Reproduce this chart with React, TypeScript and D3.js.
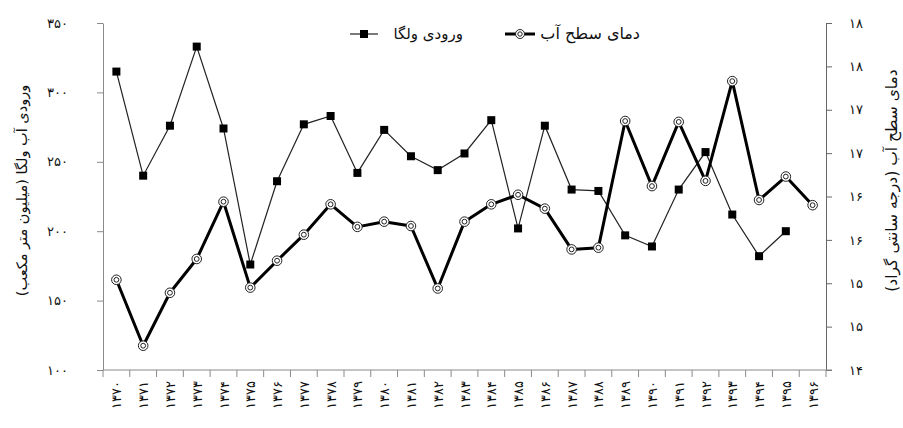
import React, { useEffect, useRef } from "react";
import * as d3 from "d3";

// years 1370..1396 (Persian calendar)
const years = [
  1370, 1371, 1372, 1373, 1374, 1375, 1376, 1377, 1378, 1379, 1380, 1381, 1382,
  1383, 1384, 1385, 1386, 1387, 1388, 1389, 1390, 1391, 1392, 1393, 1394, 1395,
  1396,
];

// Volga inflow (million m3) - left axis
const volga = [
  315, 240, 276, 333, 274, 176, 236, 277, 283, 242, 273, 254, 244, 256, 280,
  202, 276, 230, 229, 197, 189, 230, 257, 212, 182, 200, null,
];

// surface water temperature (C) - right axis
const temp = [
  15.04, 14.28, 14.89, 15.28, 15.94, 14.95, 15.26, 15.56, 15.91, 15.65, 15.71,
  15.66, 14.94, 15.71, 15.91, 16.02, 15.86, 15.39, 15.41, 16.87, 16.12, 16.86,
  16.18, 17.33, 15.96, 16.23, 15.9,
];

const leftTicks = [100, 150, 200, 250, 300, 350];
const rightTicks = [14, 14.5, 15, 15.5, 16, 16.5, 17, 17.5, 18];

const leftTitle = "ورودی آب ولگا (میلیون متر مکعب)";
const rightTitle = "دمای سطح آب (درجه سانتی گراد)";
const volgaName = "ورودی ولگا";
const tempName = "دمای سطح آب";

const fa = (v: number | string) =>
  String(v).replace(/\d/g, (c) => "۰۱۲۳۴۵۶۷۸۹"[+c]);

const W = 903;
const H = 428;
const m = { top: 23, bottom: 58, left: 103, right: 77 };
const FONT = "'DejaVu Sans', sans-serif";

export default function App() {
  const ref = useRef<SVGSVGElement>(null);

  useEffect(() => {
    const svg = d3.select(ref.current);
    svg.selectAll("*").remove();

    const x = d3
      .scaleBand<string>()
      .domain(years.map(String))
      .range([m.left, W - m.right]);
    const yL = d3
      .scaleLinear()
      .domain([100, 350])
      .range([H - m.bottom, m.top]);
    const yR = d3
      .scaleLinear()
      .domain([14, 18])
      .range([H - m.bottom, m.top]);
    const cx = (i: number) => x(String(years[i]))! + x.bandwidth() / 2;

    svg.append("rect").attr("width", W).attr("height", H).attr("fill", "white");

    // left axis
    svg
      .append("g")
      .attr("transform", `translate(${m.left},0)`)
      .call(d3.axisLeft(yL).tickValues(leftTicks).tickSize(6).tickSizeOuter(0).tickPadding(29).tickFormat((d) => fa(d as number)))
      .call((g) => g.selectAll("line,path").attr("stroke", "#8a8a8a"))
      .call((g) => g.selectAll(".tick text").attr("font-size", 13).attr("font-family", FONT).attr("fill", "#111"));

    // right axis
    svg
      .append("g")
      .attr("transform", `translate(${W - m.right},0)`)
      .call(d3.axisRight(yR).tickValues(rightTicks).tickSize(6).tickSizeOuter(0).tickPadding(17).tickFormat((d) => fa(Math.round(d as number))))
      .call((g) => g.selectAll("line,path").attr("stroke", "#666"))
      .call((g) => g.selectAll(".tick text").attr("font-size", 13).attr("font-family", FONT).attr("fill", "#111"));

    // bottom axis: ticks between categories
    const gx = svg.append("g");
    const y0 = H - m.bottom;
    gx.append("line")
      .attr("x1", m.left)
      .attr("x2", W - m.right + 6)
      .attr("y1", y0)
      .attr("y2", y0)
      .attr("stroke", "#8a8a8a");
    gx.selectAll("line.tk")
      .data([...years.map((d) => x(String(d))!), x.range()[1]])
      .join("line")
      .attr("class", "tk")
      .attr("x1", (d) => d)
      .attr("x2", (d) => d)
      .attr("y1", y0)
      .attr("y2", y0 + 7)
      .attr("stroke", "#8a8a8a");
    gx.selectAll("text")
      .data(years)
      .join("text")
      .attr("transform", (d, i) => `translate(${cx(i) + 5},${y0 + 11}) rotate(-90)`)
      .attr("text-anchor", "end")
      .attr("font-size", 13)
      .attr("font-family", FONT)
      .attr("fill", "#111")
      .text((d) => fa(d));

    // volga line (thin, squares)
    const vPts = volga
      .map((v, i) => ({ v, i }))
      .filter((d) => d.v != null) as { v: number; i: number }[];
    svg
      .append("path")
      .datum(vPts)
      .attr("fill", "none")
      .attr("stroke", "#222")
      .attr("stroke-width", 1.2)
      .attr("d", d3.line<{ v: number; i: number }>().x((d) => cx(d.i)).y((d) => yL(d.v)));
    svg
      .append("g")
      .selectAll("rect")
      .data(vPts)
      .join("rect")
      .attr("x", (d) => cx(d.i) - 4)
      .attr("y", (d) => yL(d.v) - 4)
      .attr("width", 8)
      .attr("height", 8)
      .attr("fill", "black");

    // temperature line (thick, circles)
    svg
      .append("path")
      .datum(temp)
      .attr("fill", "none")
      .attr("stroke", "black")
      .attr("stroke-width", 3)
      .attr("stroke-linejoin", "round")
      .attr("d", d3.line<number>().x((d, i) => cx(i)).y((d) => yR(d)));
    const tg = svg.append("g").selectAll("g").data(temp).join("g")
      .attr("transform", (d, i) => `translate(${cx(i)},${yR(d)})`);
    tg.append("circle").attr("r", 4.8).attr("fill", "white").attr("stroke", "#222").attr("stroke-width", 1);
    tg.append("circle").attr("r", 2.4).attr("fill", "none").attr("stroke", "#222").attr("stroke-width", 1);

    // axis titles
    svg
      .append("text")
      .attr("transform", `translate(27,${(m.top + H - m.bottom) / 2 - 6}) rotate(-90)`)
      .attr("text-anchor", "middle")
      .attr("direction", "rtl")
      .attr("font-size", 14.5)
      .attr("font-family", FONT)
      .attr("fill", "#111")
      .text(leftTitle);
    svg
      .append("text")
      .attr("transform", `translate(897,${(m.top + H - m.bottom) / 2 - 16}) rotate(-90)`)
      .attr("text-anchor", "middle")
      .attr("direction", "rtl")
      .attr("font-size", 15.5)
      .attr("font-family", FONT)
      .attr("fill", "#111")
      .text(rightTitle);

    // legend
    const lg = svg.append("g");
    const ly = 34;
    lg.append("line").attr("x1", 350).attr("x2", 378).attr("y1", ly).attr("y2", ly).attr("stroke", "#222").attr("stroke-width", 1.2);
    lg.append("rect").attr("x", 360).attr("y", ly - 4).attr("width", 8).attr("height", 8).attr("fill", "black");
    lg.append("text")
      .attr("x", 463)
      .attr("y", ly + 5)
      .attr("text-anchor", "start")
      .attr("direction", "rtl")
      .attr("font-size", 15)
      .attr("font-family", FONT)
      .attr("fill", "#111")
      .text(volgaName);
    lg.append("line").attr("x1", 505).attr("x2", 535).attr("y1", ly).attr("y2", ly).attr("stroke", "black").attr("stroke-width", 3);
    lg.append("circle").attr("cx", 520).attr("cy", ly).attr("r", 4.5).attr("fill", "white").attr("stroke", "#222");
    lg.append("circle").attr("cx", 520).attr("cy", ly).attr("r", 2.2).attr("fill", "none").attr("stroke", "#222");
    lg.append("text")
      .attr("x", 640)
      .attr("y", ly + 5)
      .attr("text-anchor", "start")
      .attr("direction", "rtl")
      .attr("font-size", 16)
      .attr("font-family", FONT)
      .attr("fill", "#111")
      .text(tempName);
  }, []);

  return (
    <svg
      ref={ref}
      width={W}
      height={H}
      style={{ position: "absolute", left: 0, top: 0 }}
    />
  );
}
